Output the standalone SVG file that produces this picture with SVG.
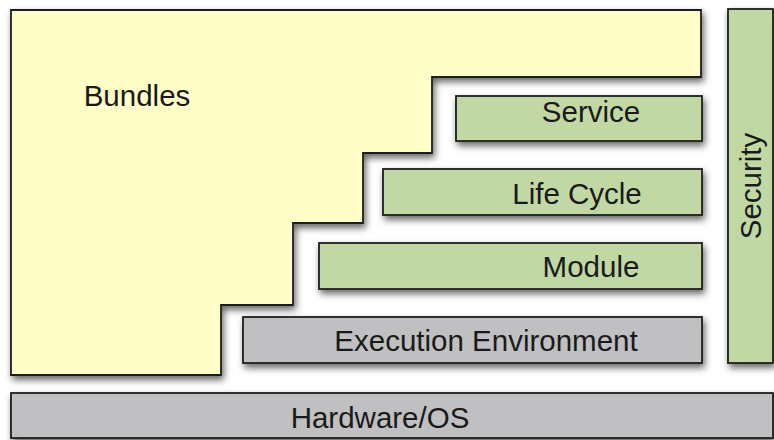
<svg xmlns="http://www.w3.org/2000/svg" width="774" height="440" viewBox="0 0 774 440">
<defs>
<filter id="sh" x="-10%" y="-10%" width="130%" height="140%">
<feDropShadow dx="2" dy="4" stdDeviation="3.5" flood-color="#000" flood-opacity="0.6"/>
</filter>
<style>
.b{stroke:#1e1e1e;stroke-width:1.8;filter:url(#sh)}
.y{fill:#FFFDC8}
.g{fill:#C1D8A4}
.k{fill:#C0C0C2}
text{font-family:"Liberation Sans",Arial,sans-serif;font-size:29.5px;fill:#1a1a1a;text-anchor:middle}
</style>
</defs>
<rect width="774" height="440" fill="#ffffff"/>
<g id="bundles">
<path class="b y" d="M11,10 H701 V77 H432 V153 H363 V223 H293 V305 H221 V375 H11 Z"/>
<text x="137" y="106">Bundles</text>
</g>
<g id="service">
<rect class="b g" x="456" y="96" width="246" height="45"/>
<text x="591" y="122">Service</text>
</g>
<g id="lifecycle">
<rect class="b g" x="383" y="169" width="319" height="46"/>
<text x="577" y="204">Life Cycle</text>
</g>
<g id="module">
<rect class="b g" x="319" y="243" width="383" height="46"/>
<text x="591" y="277">Module</text>
</g>
<g id="execution">
<rect class="b k" x="243" y="317" width="459" height="46"/>
<text x="486" y="351">Execution Environment</text>
</g>
<g id="security">
<rect class="b g" x="728" y="9" width="45" height="354"/>
<text x="761" y="186" transform="rotate(-90 761 186)">Security</text>
</g>
<g id="hardware">
<rect class="b k" x="11" y="393" width="762" height="45"/>
<text x="380" y="428">Hardware/OS</text>
</g>
<g id="connectors"/>
</svg>
